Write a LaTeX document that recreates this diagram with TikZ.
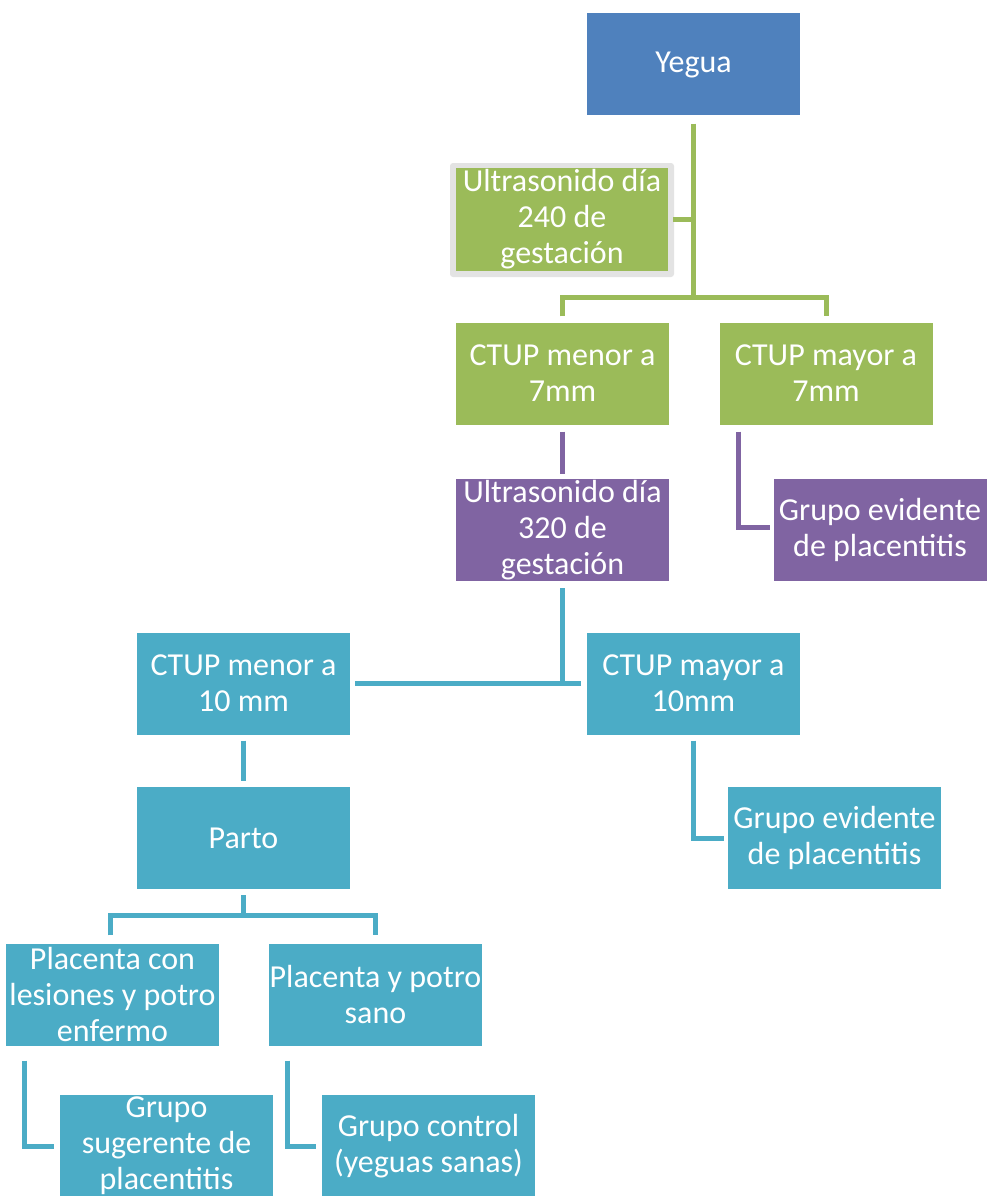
\documentclass[tikz,border=0pt]{standalone}
\usepackage{fontspec}
\setmainfont{Carlito}
\usetikzlibrary{calc}
\definecolor{cblue}{HTML}{4F81BD}
\definecolor{cgreen}{HTML}{9BBB59}
\definecolor{cpurple}{HTML}{8064A2}
\definecolor{cteal}{HTML}{4BACC6}
\definecolor{cframe}{HTML}{E3E3E3}
\tikzset{
  box/.style={minimum width=213pt, minimum height=102pt, inner sep=0pt, text=white, align=center,
    font=\fontsize{32}{36}\selectfont},
  bluebox/.style={box, fill=cblue},
  greenbox/.style={box, fill=cgreen},
  purplebox/.style={box, fill=cpurple},
  tealbox/.style={box, fill=cteal},
  conn/.style={line width=5pt},
  gline/.style={conn, draw=cgreen},
  pline/.style={conn, draw=cpurple},
  tline/.style={conn, draw=cteal},
}
\begin{document}
\begin{tikzpicture}[x=1pt,y=-1pt]
\useasboundingbox (0,0) rectangle (987,1196);
\clip (0,0) rectangle (987,1196);
\fill[white] (0,0) rectangle (987,1196);

% frame behind the 240 box
\fill[cframe, rounded corners=3pt] (450,163) rectangle (674,277);

\node[bluebox] (yegua) at (693.5,64.5) {Yegua};
\node[greenbox, minimum width=212pt, minimum height=103pt] (us240) at (562,219.5) {Ultrasonido día\\240 de\\gestación};
\node[greenbox] (m7) at (562.5,373.5) {CTUP menor a\\7mm};
\node[greenbox] (M7) at (826,373.5) {CTUP mayor a\\7mm};
\node[purplebox] (us320) at (562.5,530) {Ultrasonido día\\320 de\\gestación};
\node[purplebox] (ev1) at (880,530) {Grupo evidente\\de placentitis};
\node[tealbox] (m10) at (243.5,683.5) {CTUP menor a\\10 mm};
\node[tealbox] (M10) at (693.5,683.5) {CTUP mayor a\\10mm};
\node[tealbox] (parto) at (243.5,838) {Parto};
\node[tealbox] (ev2) at (834.5,838) {Grupo evidente\\de placentitis};
\node[tealbox] (pcl) at (112.5,994.5) {Placenta con\\lesiones y potro\\enfermo};
\node[tealbox] (psano) at (375.5,994.5) {Placenta y potro\\sano};
\node[tealbox] (sug) at (166.5,1146) {Grupo\\sugerente de\\placentitis};
\node[tealbox] (ctrl) at (428.5,1146) {Grupo control\\(yeguas sanas)};

\coordinate (b1) at (0,297);
\coordinate (b2) at (0,915);

% green connectors
\draw[gline] ($(yegua.south)+(0,8)$) -- (yegua.south |- b1);
\draw[gline] ($(m7.north)+(0,-6)$) |- (yegua.south |- b1) -| ($(M7.north)+(0,-6)$);
\draw[gline] ($(us240.east)+(5,0)$) -- (yegua.south |- us240.east);

% purple connectors
\draw[pline] ($(m7.south)+(0,7)$) -- ($(us320.north)+(0,-5)$);
\draw[pline] ($(M7.south west)+(19,7)$) |- ($(ev1.west)+(-3,-3)$);

% teal connectors
\draw[tline] ($(us320.south)+(0,7)$) -- (us320.south |- m10.east);
\draw[tline] ($(m10.east)+(5,0)$) -- ($(M10.west)+(-6,0)$);
\draw[tline] ($(m10.south)+(0,6)$) -- ($(parto.north)+(0,-6)$);
\draw[tline] ($(M10.south)+(0,6)$) |- ($(ev2.west)+(-4,0)$);
\draw[tline] ($(parto.south)+(0,6)$) -- (parto.south |- b2);
\draw[tline] ($(pcl.north)+(-2,-8)$) |- (parto.south |- b2) -| ($(psano.north)+(0,-8)$);
\draw[tline] ($(pcl.south west)+(19,15)$) |- ($(sug.west)+(-6,0)$);
\draw[tline] ($(psano.south west)+(19,15)$) |- ($(ctrl.west)+(-6,0)$);
\end{tikzpicture}
\end{document}
